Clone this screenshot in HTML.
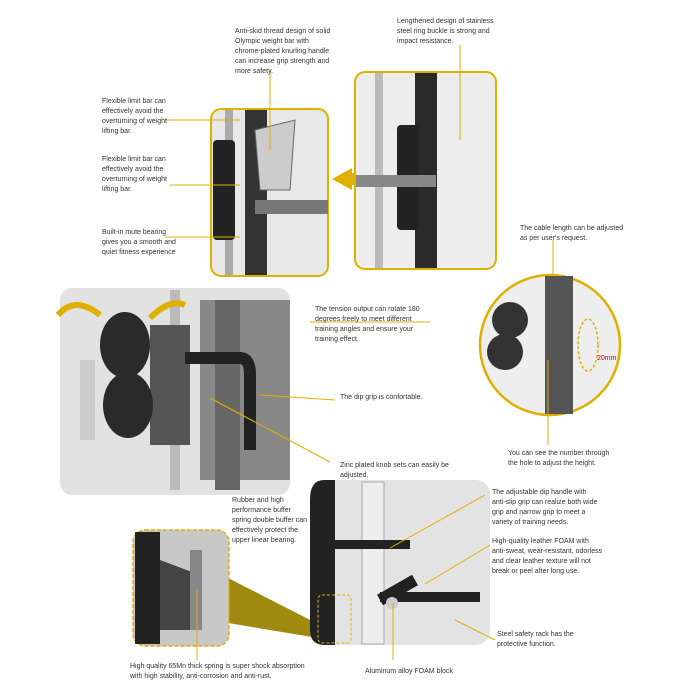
<!DOCTYPE html>
<html><head><meta charset="utf-8"><style>
html,body{margin:0;padding:0;background:#fff;}
svg{display:block;}
text{font-family:"Liberation Sans",sans-serif;font-size:7px;fill:#333;}
</style></head><body>
<svg width="700" height="700" viewBox="0 0 700 700" xmlns="http://www.w3.org/2000/svg">
<!-- top left photo box -->
<rect x="211" y="109" width="117" height="167" rx="10" fill="#e8e8e8" stroke="#e0b000" stroke-width="2"/>
<rect x="225" y="110" width="8" height="165" fill="#aaa"/>
<rect x="245" y="110" width="22" height="165" fill="#333"/>
<rect x="213" y="140" width="22" height="100" rx="4" fill="#222"/>
<rect x="255" y="200" width="73" height="14" fill="#777"/>
<path d="M255 130 L295 120 L290 190 L260 190 Z" fill="#ccc" stroke="#666"/>
<!-- top right photo box -->
<rect x="355" y="72" width="141" height="197" rx="10" fill="#ededed" stroke="#e0b000" stroke-width="2"/>
<rect x="375" y="73" width="8" height="195" fill="#bbb"/>
<rect x="415" y="73" width="22" height="195" fill="#2a2a2a"/>
<rect x="397" y="125" width="22" height="105" rx="4" fill="#222"/>
<rect x="356" y="175" width="80" height="12" fill="#888"/>
<polygon points="352,168 352,190 332,179" fill="#e0b000"/>
<rect x="345" y="173" width="10" height="12" fill="#e0b000"/>
<!-- middle left photo -->
<rect x="60" y="288" width="230" height="207" rx="12" fill="#e2e2e2"/>
<rect x="170" y="290" width="10" height="200" fill="#bbb"/>
<rect x="200" y="300" width="90" height="180" fill="#888"/>
<rect x="215" y="300" width="25" height="190" fill="#666"/>
<rect x="150" y="325" width="40" height="120" fill="#555"/>
<ellipse cx="125" cy="345" rx="25" ry="33" fill="#2a2a2a"/>
<ellipse cx="128" cy="405" rx="25" ry="33" fill="#2a2a2a"/>
<rect x="80" y="360" width="15" height="80" fill="#ccc"/>
<path d="M185 358 L240 358 Q250 358 250 375 L250 450" stroke="#222" stroke-width="12" fill="none"/>
<path d="M58 315 Q75 295 100 315" stroke="#e0b000" stroke-width="6" fill="none"/>
<path d="M150 318 Q170 298 185 305" stroke="#e0b000" stroke-width="6" fill="none"/>
<!-- right circle -->
<circle cx="550" cy="345" r="70" fill="#eee" stroke="#e0b000" stroke-width="2.5"/>
<rect x="545" y="276" width="28" height="138" fill="#555"/>
<circle cx="510" cy="320" r="18" fill="#333"/>
<circle cx="505" cy="352" r="18" fill="#333"/>
<ellipse cx="588" cy="345" rx="10" ry="26" fill="none" stroke="#e0b000" stroke-dasharray="3,2" stroke-width="1.5"/>
<text x="597" y="360" style="fill:#c00;font-size:7px">20mm</text>
<!-- bottom photo -->
<polygon points="228,578 228,623 318,638 320,625" fill="#a08a10"/>
<rect x="310" y="480" width="180" height="165" rx="14" fill="#e3e3e3"/>
<path d="M324 480 Q310 480 310 500 L310 630 Q310 645 325 645 L335 645 L335 480 Z" fill="#222"/>
<rect x="362" y="482" width="22" height="162" fill="#eee" stroke="#aaa"/>
<rect x="335" y="540" width="75" height="9" fill="#222"/>
<rect x="380" y="592" width="100" height="10" fill="#222"/>
<line x1="380" y1="600" x2="415" y2="580" stroke="#222" stroke-width="12"/>
<circle cx="392" cy="603" r="6" fill="#ccc"/>
<rect x="318" y="595" width="33" height="48" rx="4" fill="none" stroke="#e0b000" stroke-dasharray="3,2"/>
<rect x="133" y="530" width="96" height="116" rx="12" fill="#c8c8c8" stroke="#e0b000" stroke-width="1.5" stroke-dasharray="4,2"/>
<rect x="135" y="532" width="25" height="112" fill="#222"/>
<path d="M160 560 L200 575 L200 630 L160 630 Z" fill="#444"/>
<rect x="190" y="550" width="12" height="80" fill="#888"/>
<!-- lines -->
<g stroke="#e0b000" stroke-width="1" fill="none">
<line x1="165" y1="120" x2="240" y2="120"/>
<line x1="170" y1="185" x2="240" y2="185"/>
<line x1="165" y1="237" x2="240" y2="237"/>
<line x1="270" y1="70" x2="270" y2="150"/>
<line x1="460" y1="45" x2="460" y2="140"/>
<line x1="553" y1="240" x2="553" y2="275"/>
<line x1="548" y1="445" x2="548" y2="360"/>
<line x1="310" y1="322" x2="430" y2="322"/>
<line x1="260" y1="395" x2="335" y2="400"/>
<line x1="210" y1="398" x2="330" y2="462"/>
<line x1="485" y1="495" x2="390" y2="548"/>
<line x1="490" y1="545" x2="425" y2="584"/>
<line x1="495" y1="640" x2="455" y2="620"/>
<line x1="393" y1="603" x2="393" y2="660"/>
<line x1="197" y1="590" x2="197" y2="660"/>
</g>
<!-- texts -->
<g>
<text x="235" y="33">Anti-skid thread design of solid</text>
<text x="235" y="43">Olympic weight bar with</text>
<text x="235" y="53">chrome-plated knurling handle</text>
<text x="235" y="63">can increase grip strength and</text>
<text x="235" y="73">more safety.</text>
<text x="397" y="23">Lengthened design of stainless</text>
<text x="397" y="33">steel ring buckle is strong and</text>
<text x="397" y="43">impact resistance.</text>
<text x="102" y="103">Flexible limit bar can</text>
<text x="102" y="113">effectively avoid the</text>
<text x="102" y="123">overturning of weight</text>
<text x="102" y="133">lifting bar.</text>
<text x="102" y="161">Flexible limit bar can</text>
<text x="102" y="171">effectively avoid the</text>
<text x="102" y="181">overturning of weight</text>
<text x="102" y="191">lifting bar.</text>
<text x="102" y="234">Built-in mute bearing</text>
<text x="102" y="244">gives you a smooth and</text>
<text x="102" y="254">quiet fitness experience</text>
<text x="520" y="230">The cable length can be adjusted</text>
<text x="520" y="240">as per user's request.</text>
<text x="315" y="311">The tension output can rotate 180</text>
<text x="315" y="321">degrees freely to meet different</text>
<text x="315" y="331">training angles and ensure your</text>
<text x="315" y="341">training effect.</text>
<text x="340" y="399">The dip grip is confortable.</text>
<text x="340" y="467">Zinc plated knob sets can easily be</text>
<text x="340" y="477">adjusted.</text>
<text x="508" y="455">You can see the number through</text>
<text x="508" y="465">the hole to adjust the height.</text>
<text x="232" y="502">Rubber and high</text>
<text x="232" y="512">performance buffer</text>
<text x="232" y="522">spring double buffer can</text>
<text x="232" y="532">effectively protect the</text>
<text x="232" y="542">upper linear bearing.</text>
<text x="492" y="494">The adjustable dip handle with</text>
<text x="492" y="504">anti-slip grip can realize both wide</text>
<text x="492" y="514">grip and narrow grip to meet a</text>
<text x="492" y="524">variety of training needs.</text>
<text x="492" y="543">High-quality leather FOAM with</text>
<text x="492" y="553">anti-sweat, wear-resistant, odorless</text>
<text x="492" y="563">and clear leather texture will not</text>
<text x="492" y="573">break or peel after long use.</text>
<text x="497" y="636">Steel safety rack has the</text>
<text x="497" y="646">protective function.</text>
<text x="130" y="668">High quality 65Mn thick spring is super shock absorption</text>
<text x="130" y="678">with high stability, anti-corrosion and anti-rust.</text>
<text x="365" y="673">Aluminum alloy FOAM block</text>
</g>
</svg>
</body></html>
